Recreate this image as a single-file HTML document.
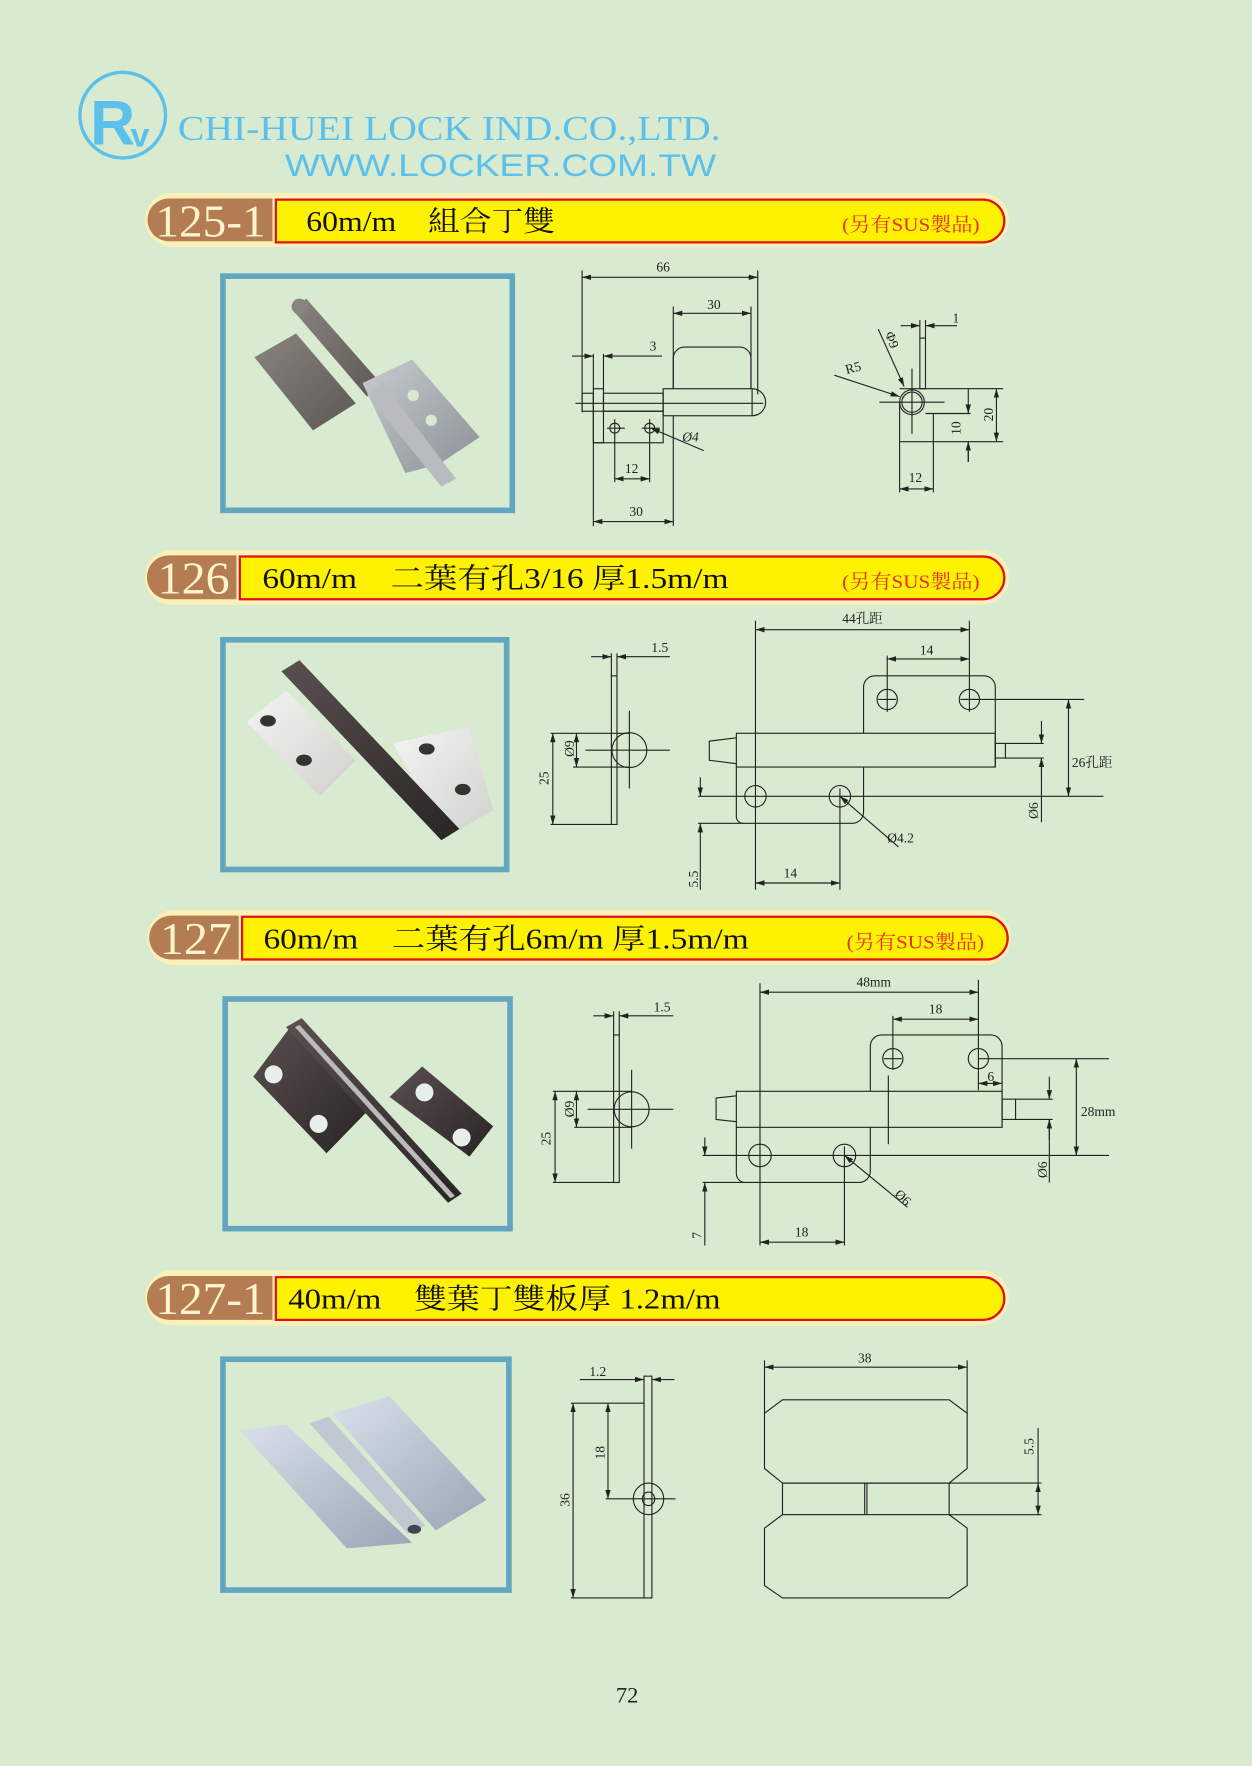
<!DOCTYPE html>
<html><head><meta charset="utf-8"><style>
html,body{margin:0;padding:0;background:#d8ead0;}
svg{display:block}
.d{stroke:#222;stroke-width:1;fill:none}
.t{font-family:"Liberation Serif","Noto Serif CJK SC",serif;font-size:12px;fill:#222}
.ttl{font-family:"Liberation Serif","Noto Serif CJK SC",serif;font-size:25px;fill:#111}
.lab{font-family:"Liberation Serif",serif;font-size:40px;fill:#fff4cc}
.sus{font-family:"Liberation Serif","Noto Serif CJK SC",serif;font-size:17px;fill:#e8302a}
.fr{fill:none;stroke:#62a6bf;stroke-width:5}
</style></head><body>
<svg width="1252" height="1766" viewBox="0 0 1112 1568" xmlns="http://www.w3.org/2000/svg">
<defs>
<marker id="a" viewBox="0 0 10 6" refX="10" refY="3" markerWidth="8" markerHeight="5" markerUnits="userSpaceOnUse" orient="auto-start-reverse"><path d="M0,0L10,3L0,6z" fill="#222"/></marker>
<linearGradient id="gs" x1="0" y1="0" x2="1" y2="1"><stop offset="0" stop-color="#c8ccd0"/><stop offset="1" stop-color="#8a9096"/></linearGradient>
<linearGradient id="gd" x1="0" y1="0" x2="1" y2="1"><stop offset="0" stop-color="#8a8480"/><stop offset="1" stop-color="#5e5854"/></linearGradient>
<linearGradient id="gw" x1="0" y1="0" x2="1" y2="1"><stop offset="0" stop-color="#f4f4f2"/><stop offset="1" stop-color="#d0d0cc"/></linearGradient>
<linearGradient id="gb" x1="0" y1="0" x2="1" y2="1"><stop offset="0" stop-color="#5a5050"/><stop offset="1" stop-color="#2a2424"/></linearGradient>
<linearGradient id="gl" x1="0" y1="0" x2="1" y2="1"><stop offset="0" stop-color="#d8e0ea"/><stop offset="1" stop-color="#9aa6b6"/></linearGradient>
</defs>
<rect width="1112" height="1568" fill="#d8ead0"/>

<!-- header -->
<ellipse cx="109" cy="102" rx="38" ry="38" fill="none" stroke="#5bc0eb" stroke-width="3"/>
<text x="80" y="128" font-family="Liberation Sans,sans-serif" font-size="56" font-weight="bold" fill="#5bc0eb" textLength="40" lengthAdjust="spacingAndGlyphs">R</text>
<text x="116" y="130" font-family="Liberation Sans,sans-serif" font-size="30" font-weight="bold" fill="#5bc0eb">v</text>
<text x="158" y="124" font-family="Liberation Serif,serif" font-size="31" fill="#5bc0eb" textLength="482" lengthAdjust="spacingAndGlyphs">CHI-HUEI LOCK IND.CO.,LTD.</text>
<text x="253" y="156" font-family="Liberation Sans,sans-serif" font-size="28" fill="#5bc0eb" textLength="383" lengthAdjust="spacingAndGlyphs">WWW.LOCKER.COM.TW</text>

<!-- band 125-1 -->
<rect x="129" y="171" width="767" height="48" rx="24" fill="#fbf0b8"/>
<path d="M150,176H242V214H150A19,19 0 0 1 150,176Z" fill="#b47c52"/>
<path d="M245,177H873A19,19 0 0 1 873,215H245Z" fill="#fff200" stroke="#e0101e" stroke-width="2"/>
<text class="lab" x="138" y="210" textLength="98" lengthAdjust="spacingAndGlyphs">125-1</text>
<text class="ttl" x="272" y="205" textLength="221" lengthAdjust="spacingAndGlyphs">60m/m　組合丁雙</text>
<text class="sus" x="748" y="205" textLength="122" lengthAdjust="spacingAndGlyphs">(另有SUS製品)</text>

<!-- band 126 -->
<rect x="129" y="488" width="767" height="49" rx="24" fill="#fbf0b8"/>
<path d="M150,493H210V532H150A19,19 0 0 1 150,493Z" fill="#b47c52"/>
<path d="M213,494H873A19,19 0 0 1 873,532H213Z" fill="#fff200" stroke="#e0101e" stroke-width="2"/>
<text class="lab" x="140" y="527" textLength="64" lengthAdjust="spacingAndGlyphs">126</text>
<text class="ttl" x="233" y="522" textLength="414" lengthAdjust="spacingAndGlyphs">60m/m　二葉有孔3/16 厚1.5m/m</text>
<text class="sus" x="748" y="522" textLength="122" lengthAdjust="spacingAndGlyphs">(另有SUS製品)</text>

<!-- band 127 -->
<rect x="131" y="808" width="767" height="49" rx="24" fill="#fbf0b8"/>
<path d="M152,813H212V852H152A19,19 0 0 1 152,813Z" fill="#b47c52"/>
<path d="M215,814H876A19,19 0 0 1 876,852H215Z" fill="#fff200" stroke="#e0101e" stroke-width="2"/>
<text class="lab" x="142" y="847" textLength="64" lengthAdjust="spacingAndGlyphs">127</text>
<text class="ttl" x="234" y="842" textLength="431" lengthAdjust="spacingAndGlyphs">60m/m　二葉有孔6m/m 厚1.5m/m</text>
<text class="sus" x="752" y="842" textLength="122" lengthAdjust="spacingAndGlyphs">(另有SUS製品)</text>

<!-- band 127-1 -->
<rect x="129" y="1128" width="767" height="49" rx="24" fill="#fbf0b8"/>
<path d="M150,1133H242V1172H150A19,19 0 0 1 150,1133Z" fill="#b47c52"/>
<path d="M245,1134H873A19,19 0 0 1 873,1172H245Z" fill="#fff200" stroke="#e0101e" stroke-width="2"/>
<text class="lab" x="138" y="1167" textLength="98" lengthAdjust="spacingAndGlyphs">127-1</text>
<text class="ttl" x="256" y="1162" textLength="384" lengthAdjust="spacingAndGlyphs">40m/m　雙葉丁雙板厚 1.2m/m</text>

<!-- photo frames -->
<rect class="fr" x="198" y="245" width="257" height="208"/>
<rect class="fr" x="198" y="568" width="252" height="204"/>
<rect class="fr" x="200" y="887" width="253" height="204"/>
<rect class="fr" x="198" y="1207" width="254" height="205"/>

<!-- photo 125-1 -->
<polygon points="226,317 263,296 316,358 278,382" fill="url(#gd)"/>
<path d="M260,275 L272,265 L338,340 L326,352Z" fill="url(#gd)"/>
<circle cx="266" cy="272" r="7" fill="#8a8480"/>
<polygon points="322,340 366,319 426,388 390,412 360,420" fill="url(#gs)"/>
<path d="M326,350 L340,340 L405,425 L392,432Z" fill="#b8bcc0"/>
<circle cx="367" cy="351" r="5" fill="#d8ead0"/><circle cx="383" cy="373" r="5" fill="#d8ead0"/>

<!-- photo 126 -->
<polygon points="219,641 254,613 316,675 284,707" fill="url(#gw)"/>
<polygon points="349,660 417,645 438,719 397,743" fill="url(#gw)"/>
<path d="M250,596 L266,586 L408,736 L392,746Z" fill="url(#gb)"/>
<ellipse cx="238" cy="640" rx="7" ry="5" fill="#333"/><ellipse cx="270" cy="675" rx="7" ry="5" fill="#333"/>
<ellipse cx="379" cy="665" rx="7" ry="5" fill="#333"/><ellipse cx="411" cy="701" rx="7" ry="5" fill="#333"/>

<!-- photo 127 -->
<polygon points="225,956 260,909 328,985 290,1024" fill="url(#gb)"/>
<polygon points="346,974 375,947 438,1000 417,1027" fill="url(#gb)"/>
<path d="M254,912 L268,904 L410,1060 L398,1068Z" fill="url(#gb)"/>
<path d="M262,912 L266,910 L404,1062 L400,1064Z" fill="#bbb"/>
<circle cx="243" cy="954" r="8" fill="#e8eee8"/><circle cx="283" cy="998" r="8" fill="#e8eee8"/>
<circle cx="377" cy="970" r="8" fill="#e8eee8"/><circle cx="410" cy="1010" r="8" fill="#e8eee8"/>

<!-- photo 127-1 -->
<polygon points="213,1270 254,1265 366,1370 308,1375" fill="url(#gl)"/>
<polygon points="295,1255 346,1240 432,1332 387,1359" fill="url(#gl)"/>
<path d="M275,1264 L292,1258 L378,1355 L362,1362Z" fill="#c0c8d4"/>
<ellipse cx="368" cy="1358" rx="6" ry="4" fill="#445"/>

<!-- ===== drawing 125-1 ===== -->
<g class="d">
<line x1="517" y1="246" x2="673" y2="246" marker-start="url(#a)" marker-end="url(#a)"/>
<line x1="517" y1="240" x2="517" y2="366"/><line x1="673" y1="240" x2="673" y2="350"/>
<line x1="598" y1="278" x2="667" y2="278" marker-start="url(#a)" marker-end="url(#a)"/>
<line x1="598" y1="272" x2="598" y2="345"/><line x1="667" y1="272" x2="667" y2="345"/>
<path d="M598,345V318A10,10 0 0 1 608,308H657A10,10 0 0 1 667,318V345"/>
<rect x="589" y="345" width="79" height="24"/>
<path d="M668,345A12,12 0 0 1 668,369"/>
<rect x="536" y="349" width="53" height="16"/>
<rect x="517" y="349" width="10" height="16"/>
<rect x="527" y="345" width="9" height="48"/>
<rect x="527" y="365" width="62" height="28"/>
<line x1="527" y1="314" x2="527" y2="345"/><line x1="536" y1="314" x2="536" y2="345"/>
<line x1="508" y1="316" x2="527" y2="316" marker-end="url(#a)"/>
<line x1="588" y1="316" x2="536" y2="316" marker-end="url(#a)"/>
<line x1="511" y1="358" x2="678" y2="358"/>
<circle cx="546" cy="380" r="4.4"/><circle cx="577" cy="380" r="4.4"/>
<line x1="539" y1="380" x2="555" y2="380"/><line x1="570" y1="380" x2="586" y2="380"/>
<line x1="546" y1="372" x2="546" y2="428"/><line x1="577" y1="372" x2="577" y2="428"/>
<line x1="546" y1="425" x2="577" y2="425" marker-start="url(#a)" marker-end="url(#a)"/>
<line x1="527" y1="393" x2="527" y2="467"/><line x1="598" y1="369" x2="598" y2="467"/>
<line x1="527" y1="463" x2="598" y2="463" marker-start="url(#a)" marker-end="url(#a)"/>
<line x1="625" y1="400" x2="578" y2="380" marker-end="url(#a)"/>
</g>
<text class="t" x="589" y="241" text-anchor="middle">66</text>
<text class="t" x="634" y="274" text-anchor="middle">30</text>
<text class="t" x="580" y="311" text-anchor="middle">3</text>
<text class="t" x="561" y="420" text-anchor="middle">12</text>
<text class="t" x="565" y="458" text-anchor="middle">30</text>
<text class="t" x="606" y="392" font-style="italic">Ø4</text>

<!-- right small 125-1 -->
<g class="d">
<rect x="817" y="300" width="5" height="45"/>
<line x1="817" y1="284" x2="817" y2="300"/><line x1="822" y1="284" x2="822" y2="300"/>
<line x1="800" y1="289" x2="817" y2="289" marker-end="url(#a)"/>
<line x1="850" y1="289" x2="822" y2="289" marker-end="url(#a)"/>
<circle cx="810" cy="357" r="11"/><circle cx="810" cy="357" r="9"/>
<line x1="799" y1="345" x2="891" y2="345"/>
<line x1="799" y1="357" x2="799" y2="392"/>
<line x1="799" y1="392" x2="891" y2="392"/>
<line x1="822" y1="367" x2="862" y2="367"/>
<line x1="829" y1="367" x2="829" y2="392"/>
<line x1="799" y1="392" x2="799" y2="437"/><line x1="829" y1="392" x2="829" y2="437"/>
<line x1="799" y1="434" x2="829" y2="434" marker-start="url(#a)" marker-end="url(#a)"/>
<line x1="860" y1="345" x2="860" y2="367" marker-end="url(#a)"/>
<line x1="860" y1="392" x2="860" y2="410"/>
<line x1="860" y1="410" x2="860" y2="392" marker-end="url(#a)"/>
<line x1="885" y1="345" x2="885" y2="392" marker-start="url(#a)" marker-end="url(#a)"/>
<line x1="781" y1="357" x2="839" y2="357"/><line x1="810" y1="327" x2="810" y2="385"/>
<line x1="780" y1="292" x2="803" y2="343" marker-end="url(#a)"/>
<line x1="741" y1="333" x2="799" y2="352" marker-end="url(#a)"/>
</g>
<text class="t" x="846" y="286">1</text>
<text class="t" x="752" y="332" transform="rotate(-15 752 332)">R5</text>
<text class="t" x="786" y="296" transform="rotate(70 786 296)">Φ9</text>
<text class="t" x="853" y="386" transform="rotate(-90 853 386)">10</text>
<text class="t" x="882" y="374" transform="rotate(-90 882 374)">20</text>
<text class="t" x="813" y="428" text-anchor="middle">12</text>

<!-- ===== drawing 126 ===== -->
<g class="d">
<rect x="543" y="600" width="5" height="132"/>
<line x1="543" y1="580" x2="543" y2="600"/><line x1="548" y1="580" x2="548" y2="600"/>
<line x1="525" y1="583" x2="543" y2="583" marker-end="url(#a)"/>
<line x1="595" y1="583" x2="548" y2="583" marker-end="url(#a)"/>
<circle cx="559" cy="666" r="15.5"/>
<line x1="520" y1="666" x2="595" y2="666"/><line x1="559" y1="631" x2="559" y2="700"/>
<line x1="489" y1="651" x2="559" y2="651"/><line x1="509" y1="681" x2="559" y2="681"/>
<line x1="489" y1="732" x2="543" y2="732"/>
<line x1="491" y1="651" x2="491" y2="732" marker-start="url(#a)" marker-end="url(#a)"/>
<line x1="512" y1="651" x2="512" y2="681" marker-start="url(#a)" marker-end="url(#a)"/>

<line x1="671" y1="551" x2="671" y2="790"/><line x1="861" y1="551" x2="861" y2="632"/>
<line x1="671" y1="559" x2="861" y2="559" marker-start="url(#a)" marker-end="url(#a)"/>
<line x1="788" y1="582" x2="788" y2="632"/>
<line x1="788" y1="585" x2="861" y2="585" marker-start="url(#a)" marker-end="url(#a)"/>
<path d="M767,651V610A10,10 0 0 1 777,600H874A10,10 0 0 1 884,610V681"/>
<circle cx="788" cy="621" r="9"/><circle cx="861" cy="621" r="9"/>
<line x1="780" y1="621" x2="796" y2="621"/><line x1="853" y1="621" x2="869" y2="621"/>
<line x1="861" y1="621" x2="963" y2="621"/>
<rect x="654" y="651" width="230" height="30"/>
<path d="M654,655L630,658V675L654,678"/>
<rect x="884" y="660" width="9" height="13"/>
<line x1="893" y1="660" x2="927" y2="660"/><line x1="893" y1="673" x2="927" y2="673"/>
<line x1="925" y1="640" x2="925" y2="660" marker-end="url(#a)"/>
<line x1="925" y1="690" x2="925" y2="673" marker-end="url(#a)"/>
<line x1="925" y1="673" x2="925" y2="730"/>
<line x1="949" y1="621" x2="949" y2="707" marker-start="url(#a)" marker-end="url(#a)"/>
<path d="M654,681V725A6,6 0 0 0 660,731H757A10,10 0 0 0 767,721V681"/>
<circle cx="671" cy="707" r="9.5"/><circle cx="746" cy="707" r="9.5"/>
<line x1="620" y1="707" x2="980" y2="707"/>
<line x1="746" y1="700" x2="746" y2="790"/>
<line x1="671" y1="784" x2="746" y2="784" marker-start="url(#a)" marker-end="url(#a)"/>
<line x1="620" y1="731" x2="660" y2="731"/>
<line x1="622" y1="690" x2="622" y2="707" marker-end="url(#a)"/>
<line x1="622" y1="790" x2="622" y2="731" marker-end="url(#a)"/>
<line x1="798" y1="752" x2="746" y2="707" marker-end="url(#a)"/>
</g>
<text class="t" x="586" y="579" text-anchor="middle">1.5</text>
<text class="t" x="487" y="697" transform="rotate(-90 487 697)">25</text>
<text class="t" x="510" y="672" transform="rotate(-90 510 672)">Ø9</text>
<text class="t" x="766" y="553" text-anchor="middle">44孔距</text>
<text class="t" x="823" y="581" text-anchor="middle" font-size="14">14</text>
<text class="t" x="952" y="681">26孔距</text>
<text class="t" x="922" y="727" transform="rotate(-90 922 727)">Ø6</text>
<text class="t" x="788" y="748">Ø4.2</text>
<text class="t" x="702" y="779" text-anchor="middle">14</text>
<text class="t" x="620" y="788" transform="rotate(-90 620 788)">5.5</text>

<!-- ===== drawing 127 ===== -->
<g class="d">
<rect x="545" y="919" width="5" height="131"/>
<line x1="545" y1="898" x2="545" y2="919"/><line x1="550" y1="898" x2="550" y2="919"/>
<line x1="527" y1="902" x2="545" y2="902" marker-end="url(#a)"/>
<line x1="598" y1="902" x2="550" y2="902" marker-end="url(#a)"/>
<circle cx="561" cy="985" r="15.5"/>
<line x1="522" y1="985" x2="598" y2="985"/><line x1="561" y1="950" x2="561" y2="1020"/>
<line x1="491" y1="969" x2="561" y2="969"/><line x1="510" y1="1001" x2="561" y2="1001"/>
<line x1="491" y1="1050" x2="545" y2="1050"/>
<line x1="493" y1="969" x2="493" y2="1050" marker-start="url(#a)" marker-end="url(#a)"/>
<line x1="512" y1="969" x2="512" y2="1001" marker-start="url(#a)" marker-end="url(#a)"/>

<line x1="675" y1="873" x2="675" y2="1106"/><line x1="869" y1="870" x2="869" y2="968"/>
<line x1="675" y1="881" x2="869" y2="881" marker-start="url(#a)" marker-end="url(#a)"/>
<line x1="793" y1="902" x2="793" y2="950"/>
<line x1="793" y1="905" x2="869" y2="905" marker-start="url(#a)" marker-end="url(#a)"/>
<path d="M773,969V929A10,10 0 0 1 783,919H880A10,10 0 0 1 890,929V1001"/>
<circle cx="793" cy="940" r="9"/><circle cx="869" cy="940" r="9"/>
<line x1="785" y1="940" x2="801" y2="940"/>
<line x1="869" y1="940" x2="985" y2="940"/>
<line x1="869" y1="962" x2="890" y2="962" marker-start="url(#a)" marker-end="url(#a)"/>
<rect x="654" y="969" width="236" height="32"/>
<path d="M654,973L636,975V994L654,996"/>
<line x1="789" y1="955" x2="789" y2="1016"/>
<rect x="890" y="976" width="12" height="18"/>
<line x1="902" y1="976" x2="935" y2="976"/><line x1="902" y1="994" x2="935" y2="994"/>
<line x1="932" y1="956" x2="932" y2="976" marker-end="url(#a)"/>
<line x1="932" y1="1012" x2="932" y2="994" marker-end="url(#a)"/>
<line x1="932" y1="994" x2="932" y2="1050"/>
<line x1="956" y1="940" x2="956" y2="1026" marker-start="url(#a)" marker-end="url(#a)"/>
<path d="M654,1001V1042A8,8 0 0 0 662,1050H763A10,10 0 0 0 773,1040V1001"/>
<circle cx="675" cy="1026" r="10"/><circle cx="750" cy="1026" r="10"/>
<line x1="624" y1="1026" x2="985" y2="1026"/>
<line x1="750" y1="1018" x2="750" y2="1106"/>
<line x1="675" y1="1103" x2="750" y2="1103" marker-start="url(#a)" marker-end="url(#a)"/>
<line x1="624" y1="1050" x2="662" y2="1050"/>
<line x1="626" y1="1010" x2="626" y2="1026" marker-end="url(#a)"/>
<line x1="626" y1="1106" x2="626" y2="1050" marker-end="url(#a)"/>
<line x1="806" y1="1072" x2="750" y2="1026" marker-end="url(#a)"/>
</g>
<text class="t" x="588" y="898" text-anchor="middle">1.5</text>
<text class="t" x="489" y="1017" transform="rotate(-90 489 1017)">25</text>
<text class="t" x="510" y="992" transform="rotate(-90 510 992)">Ø9</text>
<text class="t" x="776" y="876" text-anchor="middle" font-size="11">48mm</text>
<text class="t" x="831" y="900" text-anchor="middle" font-size="13">18</text>
<text class="t" x="880" y="960" text-anchor="middle">6</text>
<text class="t" x="960" y="991" font-size="11">28mm</text>
<text class="t" x="930" y="1046" transform="rotate(-90 930 1046)">Ø6</text>
<text class="t" x="794" y="1061" transform="rotate(45 794 1061)">Ø6</text>
<text class="t" x="712" y="1098" text-anchor="middle">18</text>
<text class="t" x="623" y="1100" transform="rotate(-90 623 1100)">7</text>

<!-- ===== drawing 127-1 ===== -->
<g class="d">
<rect x="572" y="1222" width="7" height="197"/>
<line x1="515" y1="1225" x2="572" y2="1225" marker-end="url(#a)"/>
<line x1="599" y1="1225" x2="579" y2="1225" marker-end="url(#a)"/>
<ellipse cx="576" cy="1331" rx="13.5" ry="14"/><ellipse cx="576" cy="1331" rx="5.5" ry="6"/>
<line x1="538" y1="1331" x2="600" y2="1331"/>
<line x1="507" y1="1246" x2="572" y2="1246"/><line x1="507" y1="1419" x2="572" y2="1419"/>
<line x1="509" y1="1246" x2="509" y2="1419" marker-start="url(#a)" marker-end="url(#a)"/>
<line x1="540" y1="1246" x2="540" y2="1331" marker-start="url(#a)" marker-end="url(#a)"/>

<line x1="679" y1="1208" x2="679" y2="1255"/><line x1="859" y1="1208" x2="859" y2="1255"/>
<line x1="679" y1="1214" x2="859" y2="1214" marker-start="url(#a)" marker-end="url(#a)"/>
<path d="M695,1243H843L859,1255V1304L843,1317H695L679,1304V1255Z"/>
<rect x="695" y="1317" width="148" height="28"/>
<line x1="768" y1="1317" x2="768" y2="1345"/><line x1="770" y1="1317" x2="770" y2="1345"/>
<path d="M695,1345L679,1357V1408L695,1419H843L859,1408V1357L843,1345"/>
<line x1="843" y1="1317" x2="925" y2="1317"/><line x1="843" y1="1345" x2="925" y2="1345"/>
<line x1="922" y1="1268" x2="922" y2="1317"/>
<line x1="922" y1="1317" x2="922" y2="1345" marker-start="url(#a)" marker-end="url(#a)"/>
</g>
<text class="t" x="531" y="1222" text-anchor="middle">1.2</text>
<text class="t" x="506" y="1338" transform="rotate(-90 506 1338)">36</text>
<text class="t" x="537" y="1296" transform="rotate(-90 537 1296)">18</text>
<text class="t" x="768" y="1210" text-anchor="middle">38</text>
<text class="t" x="918" y="1292" transform="rotate(-90 918 1292)">5.5</text>

<text x="557" y="1512" text-anchor="middle" font-family="Liberation Serif,serif" font-size="20" fill="#222">72</text>
</svg>
</body></html>
